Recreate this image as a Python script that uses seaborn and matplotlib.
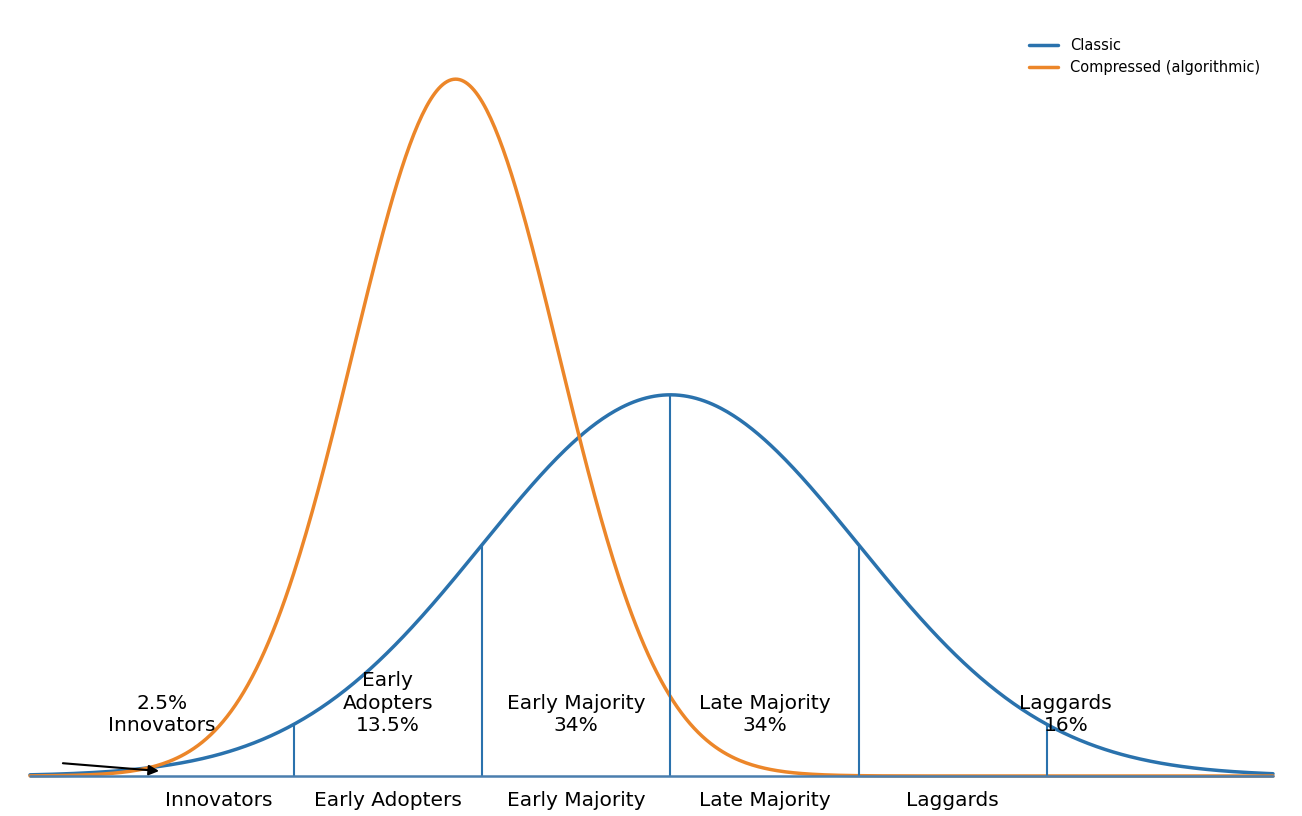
import numpy as np
import matplotlib
matplotlib.use("Agg")
import matplotlib.pyplot as plt
import seaborn as sns
import pandas as pd

# curve parameters (in standard deviations of the classic curve)
classic_mu, classic_sd = 0.0, 1.0
compressed_mu, compressed_sd = -1.14, 0.547
x_min, x_max = -3.4, 3.2

# segment boundaries and labels
boundaries = [-2, -1, 0, 1, 2]
segment_pos = [-2.4, -1.5, -0.5, 0.5, 1.5]
segment_names = ["Innovators", "Early Adopters", "Early Majority", "Late Majority", "Laggards"]
share_pos = [-2.7, -1.5, -0.5, 0.5, 2.1]
share_texts = ["2.5%\nInnovators", "Early\nAdopters\n13.5%", "Early Majority\n34%",
               "Late Majority\n34%", "Laggards\n16%"]

blue = "#2a72ad"
orange = "#ec8629"

def pdf(x, mu, sd):
    return np.exp(-0.5 * ((x - mu) / sd) ** 2) / (sd * np.sqrt(2 * np.pi))

xs = np.linspace(x_min, x_max, 600)
df = pd.DataFrame({
    "x": np.concatenate([xs, xs]),
    "y": np.concatenate([pdf(xs, classic_mu, classic_sd), pdf(xs, compressed_mu, compressed_sd)]),
    "curve": ["Classic"] * len(xs) + ["Compressed (algorithmic)"] * len(xs),
})

sns.set_style("white")
plt.rcParams["font.family"] = ["DejaVu Sans"]
plt.rcParams["text.color"] = "black"
plt.rcParams["xtick.color"] = "black"

fig = plt.figure(figsize=(13.02, 8.16), dpi=100)
ax = fig.add_axes([30 / 1302, 40 / 816, 1243 / 1302, 751 / 816])

sns.lineplot(data=df, x="x", y="y", hue="curve", palette=[blue, orange], linewidth=2.5, ax=ax)
for ln in ax.lines:
    ln.set_clip_on(False)

base = ax.axhline(0, color="#4a7eae", lw=1.8, zorder=3)
base.set_clip_on(False)
for b in boundaries:
    ax.vlines(b, 0, pdf(b, classic_mu, classic_sd), color=blue, lw=1.5)

for xp, t in zip(share_pos, share_texts):
    ax.text(xp, 0.043, t, ha="center", va="bottom", fontsize=14.5, color="black",
            linespacing=1.22)

ax.annotate("", xy=(-2.7, 0.005), xytext=(-3.24, 0.0136),
            arrowprops=dict(arrowstyle="-|>", color="black", lw=1.5, mutation_scale=15))

ax.set_xlim(x_min, x_max)
ax.set_ylim(0, 0.786)
ax.set_xticks(segment_pos)
ax.set_xticklabels(segment_names, fontsize=14.5)
ax.tick_params(axis="x", length=0, pad=11)
ax.set_yticks([])
ax.set_xlabel("")
ax.set_ylabel("")
for s in ax.spines.values():
    s.set_visible(False)

leg = ax.legend(loc="upper right", frameon=False, fontsize=10.5, title=None)

fig.savefig("out.png", dpi=100)
